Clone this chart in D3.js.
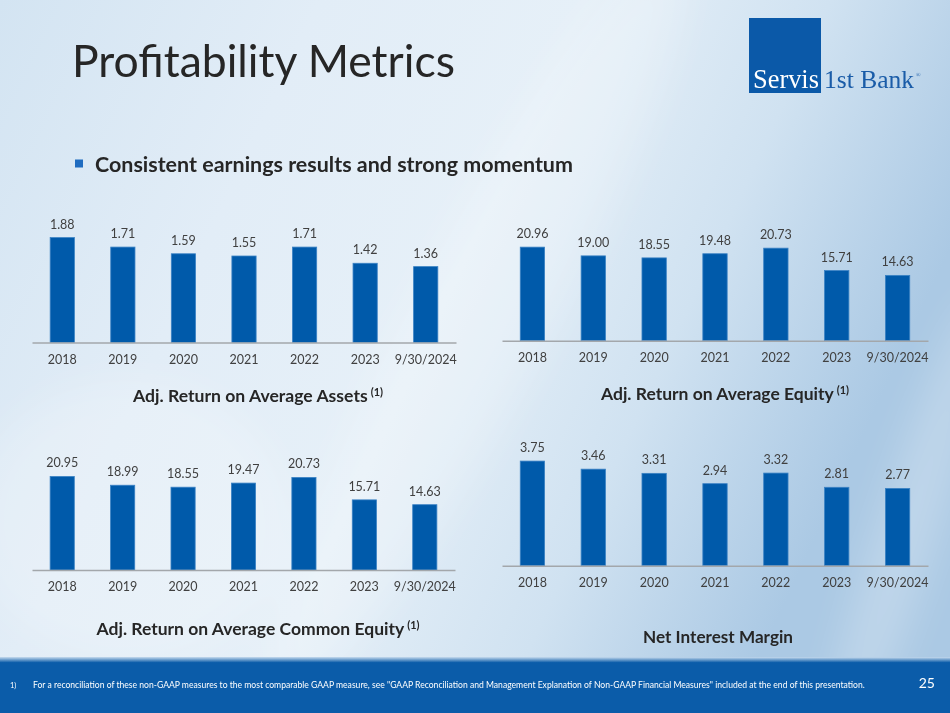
<!DOCTYPE html>
<html>
<head>
<meta charset="utf-8">
<script src="https://cdn.jsdelivr.net/npm/d3@7.9.0/dist/d3.min.js"></script>
<style>
  html, body { margin: 0; padding: 0; overflow: hidden; background: #e6f0f8; }
  svg { display: block; font-family: Lato, "Open Sans", sans-serif; }
</style>
</head>
<body>
<svg id="slide" width="950" height="713"></svg>
<script>
// ---- data ----
const categories = ['2018', '2019', '2020', '2021', '2022', '2023', '9/30/2024'];
const roaa  = [1.88, 1.71, 1.59, 1.55, 1.71, 1.42, 1.36];
const roae  = [20.96, 19.00, 18.55, 19.48, 20.73, 15.71, 14.63];
const roace = [20.95, 18.99, 18.55, 19.47, 20.73, 15.71, 14.63];
const nim   = [3.75, 3.46, 3.31, 2.94, 3.32, 2.81, 2.77];
const axisMax = [2, 25, 25, 4];           // hidden value-axis maximum of each chart
const chartTitles = [
  'Adj. Return on Average Assets',
  'Adj. Return on Average Equity',
  'Adj. Return on Average Common Equity',
  'Net Interest Margin'
];
const titleNotes = ['(1)', '(1)', '(1)', ''];

// ---- layout for the four panels ----
const layout = [
  { x0: 32,  x1: 456, base: 342.5, titleX: 258, titleY: 402, titleW: 247 },
  { x0: 502, x1: 928, base: 340.7, titleX: 725, titleY: 400, titleW: 245 },
  { x0: 32,  x1: 455, base: 570,   titleX: 258, titleY: 634.5, titleW: 320 },
  { x0: 502, x1: 928, base: 565.7, titleX: 718, titleY: 643, titleW: 150 }
];
const plotH = 111.6;
const series = [roaa, roae, roace, nim];

const svg = d3.select('#slide');

// fit a text element's font-size so it spans the given width
function fitWidth(sel, w) {
  const cur = sel.node().getComputedTextLength();
  const fs = parseFloat(sel.attr('font-size'));
  sel.attr('font-size', (fs * w / cur).toFixed(2));
  return sel;
}

// ---- background ----
const defs = svg.append('defs');
const bg = defs.append('linearGradient').attr('id', 'bg')
  .attr('x1', '0').attr('y1', '0').attr('x2', '1').attr('y2', '0.35');
[[0, '#d3e4f2'], [0.3, '#e2edf7'], [0.55, '#e6f0f8'], [0.78, '#d0e2f1'], [1, '#abc9e4']]
  .forEach(([o, c]) => bg.append('stop').attr('offset', o).attr('stop-color', c));
const blur = defs.append('filter').attr('id', 'soft')
  .attr('x', '-50%').attr('y', '-50%').attr('width', '200%').attr('height', '200%');
blur.append('feGaussianBlur').attr('stdDeviation', 20);

svg.append('rect').attr('width', 950).attr('height', 713).attr('fill', 'url(#bg)');
// soft light streaks
const streaks = [
  { cx: 480, cy: 320, rx: 70, ry: 420, rot: 28, op: 0.22 },
  { cx: 905, cy: 540, rx: 30, ry: 260, rot: 18, op: 0.25 },
  { cx: 130, cy: 520, rx: 160, ry: 140, rot: 0, op: 0.2 }
];
svg.append('g').attr('filter', 'url(#soft)')
  .selectAll('ellipse').data(streaks).join('ellipse')
  .attr('cx', d => d.cx).attr('cy', d => d.cy)
  .attr('rx', d => d.rx).attr('ry', d => d.ry)
  .attr('transform', d => `rotate(${d.rot},${d.cx},${d.cy})`)
  .attr('fill', '#ffffff').attr('opacity', d => d.op);

// ---- header ----
fitWidth(svg.append('text').attr('x', 72).attr('y', 77)
  .attr('font-size', 40).attr('fill', '#262626')
  .text('Profitability Metrics'), 383);

svg.append('rect').attr('x', 75).attr('y', 159.5).attr('width', 8).attr('height', 8)
  .attr('fill', '#1f6cc0');
fitWidth(svg.append('text').attr('x', 95).attr('y', 172)
  .attr('font-size', 23).attr('font-weight', 700).attr('fill', '#262626')
  .text('Consistent earnings results and strong momentum'), 478);

// logo
svg.append('rect').attr('x', 749).attr('y', 18).attr('width', 72).attr('height', 75)
  .attr('fill', '#0b59a8');
fitWidth(svg.append('text').attr('x', 753).attr('y', 88)
  .attr('font-family', '"Liberation Serif", serif').attr('font-size', 27)
  .attr('fill', '#ffffff').text('Servis'), 66);
fitWidth(svg.append('text').attr('x', 824).attr('y', 88)
  .attr('font-family', '"Liberation Serif", serif').attr('font-size', 26)
  .attr('fill', '#1a5ca8').text('1st Bank'), 90);
svg.append('text').attr('x', 916).attr('y', 77)
  .attr('font-family', '"Liberation Serif", serif').attr('font-size', 6)
  .attr('fill', '#1a5ca8').text('®');

// ---- charts ----
series.forEach((values, i) => {
  const L = layout[i];
  const x = d3.scaleBand().domain(categories).range([L.x0, L.x1])
    .paddingInner(0.6).paddingOuter(0.3);
  const y = d3.scaleLinear().domain([0, axisMax[i]]).range([L.base, L.base - plotH]);
  const g = svg.append('g');

  g.selectAll('rect.bar').data(values).join('rect')
    .attr('class', 'bar')
    .attr('x', (d, j) => x(categories[j]))
    .attr('y', d => y(d))
    .attr('width', x.bandwidth())
    .attr('height', d => y(0) - y(d))
    .attr('fill', '#005aaa')
    .attr('stroke', '#3a82c4').attr('stroke-width', 0.8);

  g.selectAll('text.val').data(values).join('text')
    .attr('class', 'val')
    .attr('x', (d, j) => x(categories[j]) + x.bandwidth() / 2)
    .attr('y', d => y(d) - 9)
    .attr('text-anchor', 'middle')
    .attr('font-size', 12.5).attr('fill', '#404040')
    .text(d => d.toFixed(2));

  const ax = g.append('g')
    .attr('transform', `translate(0,${L.base})`)
    .call(d3.axisBottom(x).tickSize(0).tickSizeOuter(0).tickPadding(12.5));
  ax.select('.domain').attr('stroke', '#a3a7ab').attr('stroke-width', 1.6);
  ax.selectAll('text').attr('font-size', 12.5).attr('fill', '#404040')
    .attr('font-family', 'Lato, "Open Sans", sans-serif');

  const t = g.append('text')
    .attr('x', L.titleX).attr('y', L.titleY)
    .attr('text-anchor', 'middle')
    .attr('font-size', 16).attr('font-weight', 700).attr('fill', '#262626');
  t.append('tspan').text(chartTitles[i]);
  if (titleNotes[i]) {
    t.append('tspan').attr('font-size', '0.62em').attr('dy', -6).attr('dx', 3)
      .text(titleNotes[i]);
  }
  fitWidth(t, L.titleW);
});

// ---- footer ----
const foot = defs.append('linearGradient').attr('id', 'foot')
  .attr('x1', 0).attr('y1', 0).attr('x2', 0).attr('y2', 1);
[[0, '#c7dbee'], [0.1, '#0b5ca9'], [1, '#0b5ca9']]
  .forEach(([o, c]) => foot.append('stop').attr('offset', o).attr('stop-color', c));
svg.append('rect').attr('x', 0).attr('y', 657).attr('width', 950).attr('height', 56)
  .attr('fill', 'url(#foot)');
svg.append('text').attr('x', 10).attr('y', 688)
  .attr('font-size', 7.5).attr('fill', '#ffffff').text('1)');
fitWidth(svg.append('text').attr('x', 33).attr('y', 688)
  .attr('font-size', 7.5).attr('fill', '#ffffff')
  .text('For a reconciliation of these non-GAAP measures to the most comparable GAAP measure, see "GAAP Reconciliation and Management Explanation of Non-GAAP Financial Measures" included at the end of this presentation.'), 833);
svg.append('text').attr('x', 935).attr('y', 688).attr('text-anchor', 'end')
  .attr('font-size', 14).attr('fill', '#ffffff').text('25');
</script>
</body>
</html>
